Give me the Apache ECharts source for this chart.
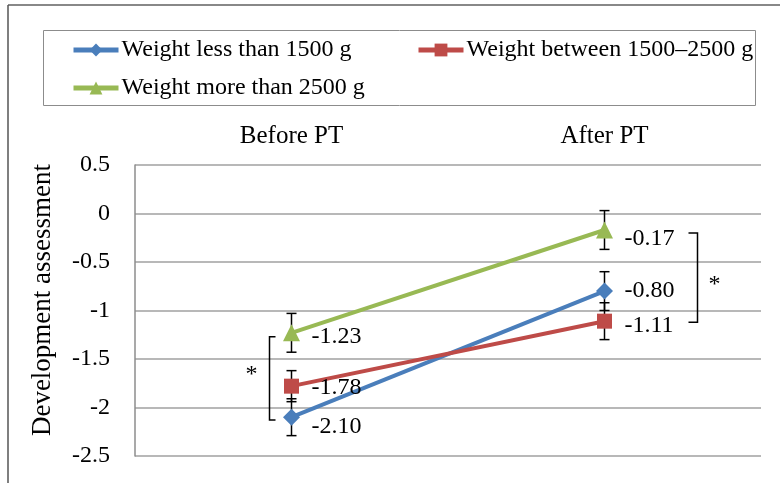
<!DOCTYPE html>
<html>
<head>
<meta charset="utf-8">
<script src="https://cdn.jsdelivr.net/npm/echarts@6/dist/echarts.min.js"></script>
<style>html,body{margin:0;padding:0;background:#fff}#c{width:780px;height:483px}</style>
</head>
<body>
<div id="c"></div>
<script>
const categories = ['Before PT', 'After PT'];
const seriesNames = ['Weight less than 1500 g', 'Weight between 1500\u20132500 g', 'Weight more than 2500 g'];
const lowWeight = [-2.10, -0.80];
const midWeight = [-1.78, -1.11];
const highWeight = [-1.23, -0.17];
const lowErr = [0.19, 0.20];
const midErr = [0.16, 0.19];
const highErr = [0.20, 0.20];
// significance brackets: [category index, top value, bottom value]
const brackets = [[0, -1.27, -2.13], [1, -0.20, -1.12]];
const yMin = -2.5, yMax = 0.5, yStep = 0.5;
const yTitle = 'Development assessment';

const FONT = 'Liberation Serif';
const colors = ['#4a7ebb', '#be4b48', '#98b954'];
const symbols = ['diamond', 'rect', 'triangle'];
const symbolSizes = [17, 15, 17];
const values = [lowWeight, midWeight, highWeight];
const errs = [lowErr, midErr, highErr];
const labelOffsets = [[[0, 10], [0, 0]], [[0, 2], [0, 5]], [[0, 4], [0, 9]]];

const chart = echarts.init(document.getElementById('c'), null, {renderer: 'canvas'});

const lineSeries = values.map((vals, i) => ({
  name: seriesNames[i],
  type: 'line',
  z: 3,
  data: vals.map((v, j) => ({
    value: v,
    label: {offset: labelOffsets[i][j]}
  })),
  symbol: symbols[i],
  symbolSize: symbolSizes[i],
  itemStyle: {color: colors[i]},
  lineStyle: {color: colors[i], width: 4},
  label: {
    show: true, position: 'right', distance: 20 - symbolSizes[i] / 2,
    fontFamily: FONT, fontSize: 24, color: '#000',
    formatter: p => p.value.toFixed(2)
  },
  emphasis: {disabled: true},
  animation: false
}));

const errData = [];
values.forEach((vals, i) => vals.forEach((v, j) => errData.push([j, v - errs[i][j], v + errs[i][j]])));

const errSeries = {
  type: 'custom', z: 2, silent: true, animation: false,
  data: errData,
  encode: {x: 0, y: [1, 2]},
  renderItem: (params, api) => {
    const lo = api.coord([api.value(0), api.value(1)]);
    const hi = api.coord([api.value(0), api.value(2)]);
    const w = 5;
    const st = {stroke: '#000', lineWidth: 1.5};
    return {type: 'group', children: [
      {type: 'line', shape: {x1: lo[0], y1: lo[1], x2: hi[0], y2: hi[1]}, style: st},
      {type: 'line', shape: {x1: lo[0] - w, y1: lo[1], x2: lo[0] + w, y2: lo[1]}, style: st},
      {type: 'line', shape: {x1: hi[0] - w, y1: hi[1], x2: hi[0] + w, y2: hi[1]}, style: st}
    ]};
  }
};

const bracketSeries = {
  type: 'custom', z: 2, silent: true, animation: false,
  data: brackets,
  encode: {x: 0, y: [1, 2]},
  renderItem: (params, api) => {
    const top = api.coord([api.value(0), api.value(1)]);
    const bot = api.coord([api.value(0), api.value(2)]);
    const left = params.dataIndex === 0;
    const x = left ? top[0] - 22 : top[0] + 93;
    const tick = left ? 6 : -9;
    const st = {stroke: '#000', lineWidth: 1.5, fill: null};
    const sx = left ? top[0] - 40 : top[0] + 110;
    const sy = (top[1] + bot[1]) / 2 + (left ? -4 : 7);
    return {type: 'group', children: [
      {type: 'polyline', shape: {points: [[x + tick, top[1]], [x, top[1]], [x, bot[1]], [x + tick, bot[1]]]}, style: st},
      {type: 'text', style: {text: '*', x: sx, y: sy, textAlign: 'center', textVerticalAlign: 'middle', font: '24px "' + FONT + '"', fill: '#000'}}
    ]};
  }
};

const legendBase = {
  orient: 'horizontal', itemWidth: 45, itemHeight: 16, itemGap: 0,
  lineStyle: {width: 5},
  textStyle: {fontFamily: FONT, fontSize: 24, color: '#000', padding: [0, 0, 0, -2]},
  selectedMode: false
};

chart.setOption({
  animation: false,
  grid: {left: 135, top: 165, right: 19, bottom: 27},
  legend: [
    Object.assign({}, legendBase, {left: 66, top: 33, data: [seriesNames[0]]}),
    Object.assign({}, legendBase, {left: 411, top: 33, data: [seriesNames[1]]}),
    Object.assign({}, legendBase, {left: 66, top: 71, data: [seriesNames[2]]})
  ],
  xAxis: {
    type: 'category', data: categories, position: 'top',
    axisLine: {show: false}, axisTick: {show: false},
    axisLabel: {fontFamily: FONT, fontSize: 25, color: '#000', margin: 16},
    splitLine: {show: false}
  },
  yAxis: {
    type: 'value', min: yMin, max: yMax, interval: yStep,
    axisLine: {show: true, lineStyle: {color: '#8c8c8c', width: 1.5}},
    axisTick: {show: false},
    axisLabel: {fontFamily: FONT, fontSize: 24, color: '#000', margin: 25},
    splitLine: {show: true, lineStyle: {color: '#a0a0a0', width: 1.5}}
  },
  graphic: [
    {type: 'rect', shape: {x: 43.5, y: 30.5, width: 712, height: 75}, style: {fill: null, stroke: '#8c8c8c', lineWidth: 1}, z: 0},
    {type: 'line', shape: {x1: 8, y1: 5, x2: 780, y2: 5}, style: {stroke: '#888', lineWidth: 2}},
    {type: 'line', shape: {x1: 8, y1: 5, x2: 8, y2: 483}, style: {stroke: '#555', lineWidth: 1.5}},
    {type: 'text', x: 43, y: 300, rotation: Math.PI / 2,
     style: {text: yTitle, textAlign: 'center', textVerticalAlign: 'middle', font: '27px "' + FONT + '"', fill: '#000'}}
  ],
  series: [errSeries, bracketSeries].concat(lineSeries)
});
</script>
</body>
</html>
